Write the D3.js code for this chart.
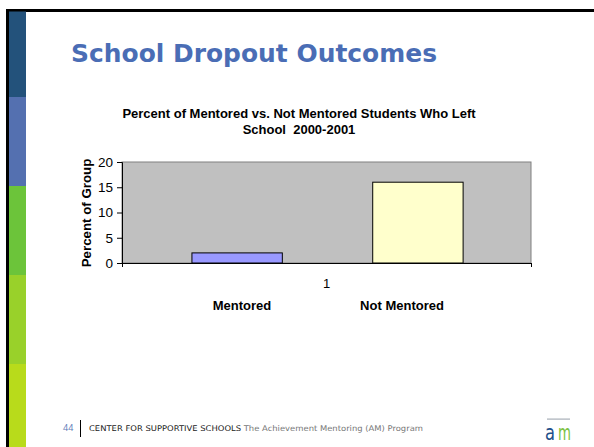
<!DOCTYPE html>
<html>
<head>
<meta charset="utf-8">
<script src="https://cdn.jsdelivr.net/npm/d3@7"></script>
<style>
  html, body { margin: 0; padding: 0; background: #fff; }
  svg { display: block; }
</style>
</head>
<body>
<div id="slide"></div>
<script>
const W = 594, H = 447;

// chart data
const categories = ["1"];
const seriesNames = ["Mentored", "Not Mentored"];
const seriesValues = [2, 16];
const seriesColors = ["#9999ff", "#ffffcc"];
const yTicks = [0, 5, 10, 15, 20];

// side strip bands
const bandColors = ["#23527b", "#5470b0", "#6cc43a", "#99d12a", "#b8db1b"];

const svg = d3.select("#slide").append("svg").attr("width", W).attr("height", H);

svg.append("rect").attr("width", W).attr("height", H).attr("fill", "#fff");

// slide frame
svg.append("rect").attr("x", 6).attr("y", 9).attr("width", W).attr("height", 3).attr("fill", "#000");
svg.append("rect").attr("x", 6).attr("y", 9).attr("width", 3).attr("height", H).attr("fill", "#000");

svg.selectAll("rect.band")
  .data(bandColors)
  .join("rect")
  .attr("class", "band")
  .attr("x", 9).attr("width", 17)
  .attr("y", (d, i) => i === 0 ? 11.5 : Math.round(97 + (i - 1) * 89))
  .attr("height", (d, i) => i === 0 ? 85.5 : 89)
  .attr("fill", d => d);

// slide title
svg.append("text")
  .attr("x", 71).attr("y", 62)
  .attr("font-family", "'DejaVu Sans', sans-serif")
  .attr("font-weight", "bold")
  .attr("font-size", 25)
  .attr("fill", "#4a6db5")
  .attr("textLength", 366)
  .attr("lengthAdjust", "spacingAndGlyphs")
  .text("School Dropout Outcomes");

// chart
const plot = { left: 122, right: 531, top: 162, bottom: 263 };

const x = d3.scaleBand().domain(categories).range([plot.left, plot.right]);
const bw = x.bandwidth();
const xs = d3.scaleBand().domain(seriesNames).range([bw * 0.171, bw * 0.834]).paddingInner(0.5);
const y = d3.scaleLinear().domain([0, 20]).range([plot.bottom, plot.top]);

const font = "'Liberation Sans', Arial, sans-serif";

svg.append("text")
  .attr("text-anchor", "middle")
  .attr("font-family", font).attr("font-weight", "bold").attr("font-size", 13)
  .selectAll("tspan")
  .data(["Percent of Mentored vs. Not Mentored Students Who Left", "School\u00a0 2000-2001"])
  .join("tspan")
  .attr("x", 299)
  .attr("y", (d, i) => 118 + i * 16)
  .text(d => d);

svg.append("rect")
  .attr("x", plot.left).attr("y", plot.top)
  .attr("width", plot.right - plot.left).attr("height", plot.bottom - plot.top)
  .attr("fill", "#c0c0c0")
  .attr("stroke", "#808080").attr("stroke-width", 1);

svg.selectAll("rect.bar")
  .data(seriesNames.map((s, i) => ({ s, v: seriesValues[i], c: seriesColors[i] })))
  .join("rect")
  .attr("class", "bar")
  .attr("x", d => x(categories[0]) + xs(d.s))
  .attr("width", xs.bandwidth())
  .attr("y", d => y(d.v))
  .attr("height", d => y(0) - y(d.v))
  .attr("fill", d => d.c)
  .attr("stroke", "#000").attr("stroke-width", 1);

const yAxis = svg.append("g")
  .attr("transform", `translate(${plot.left},0)`)
  .call(d3.axisLeft(y).tickValues(yTicks).tickSize(5).tickPadding(4));
yAxis.select(".domain").attr("stroke", "#000");
yAxis.selectAll("text").attr("font-family", font).attr("font-size", 13.5).attr("fill", "#000");

const xAxis = svg.append("g")
  .attr("transform", `translate(0,${plot.bottom})`)
  .call(d3.axisBottom(d3.scaleLinear().domain([0, 1]).range([plot.left, plot.right])).tickValues([0, 1]).tickSize(4).tickFormat(""));
xAxis.select(".domain").attr("stroke", "#000").attr("d", `M${plot.left},0.5H${plot.right}`);

svg.append("text")
  .attr("x", x(categories[0]) + bw / 2).attr("y", 288)
  .attr("text-anchor", "middle")
  .attr("font-family", font).attr("font-size", 13)
  .text(categories[0]);

svg.selectAll("text.series")
  .data(seriesNames)
  .join("text")
  .attr("class", "series")
  .attr("x", (d, i) => [242, 402][i])
  .attr("y", 310)
  .attr("text-anchor", "middle")
  .attr("font-family", font).attr("font-weight", "bold").attr("font-size", 13)
  .text(d => d);

svg.append("text")
  .attr("transform", "translate(91,213) rotate(-90)")
  .attr("text-anchor", "middle")
  .attr("font-family", font).attr("font-weight", "bold").attr("font-size", 13.3)
  .text("Percent of Group");

// footer
svg.append("text")
  .attr("x", 63).attr("y", 431)
  .attr("font-family", "'Open Sans', sans-serif").attr("font-size", 9)
  .attr("fill", "#5a7ab8")
  .text("44");
svg.append("line")
  .attr("x1", 80.5).attr("x2", 80.5).attr("y1", 420).attr("y2", 437)
  .attr("stroke", "#000").attr("stroke-width", 1);
const foot = svg.append("text")
  .attr("x", 89).attr("y", 431)
  .attr("font-family", "'DejaVu Sans', sans-serif").attr("font-size", 7.8)
  .attr("textLength", 334).attr("lengthAdjust", "spacingAndGlyphs");
foot.append("tspan").attr("fill", "#222").text("CENTER FOR SUPPORTIVE SCHOOLS ");
foot.append("tspan").attr("fill", "#777").text("The Achievement Mentoring (AM) Program");

// logo
svg.append("rect").attr("x", 547).attr("y", 418.5).attr("width", 23).attr("height", 1.2).attr("fill", "#a8b0b8");
svg.selectAll("text.logo")
  .data([["a", "#1e4f8a", 545, 10], ["m", "#7cc242", 558, 13]])
  .join("text")
  .attr("class", "logo")
  .attr("x", d => d[2]).attr("y", 440)
  .attr("font-family", "'DejaVu Sans', sans-serif").attr("font-size", 21)
  .attr("textLength", d => d[3]).attr("lengthAdjust", "spacingAndGlyphs")
  .attr("fill", d => d[1])
  .text(d => d[0]);
</script>
</body>
</html>
